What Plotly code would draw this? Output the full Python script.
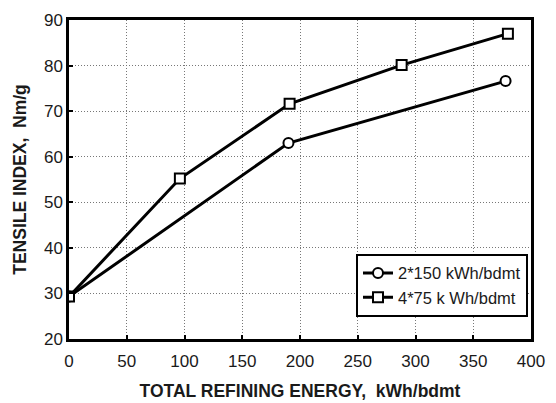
import plotly.graph_objects as go

x_circle = [0, 190, 378]
y_circle = [29.3, 63.0, 76.6]
x_square = [0, 96, 191, 288, 380]
y_square = [29.3, 55.2, 71.6, 80.1, 87.0]
name_circle = "2*150 kWh/bdmt"
name_square = "4*75 k Wh/bdmt"

fig = go.Figure()
fig.add_trace(go.Scatter(x=x_circle, y=y_circle, name=name_circle, mode="lines+markers",
                         line=dict(color="black", width=3),
                         marker=dict(symbol="circle", size=10, color="white",
                                     line=dict(color="black", width=2))))
fig.add_trace(go.Scatter(x=x_square, y=y_square, name=name_square, mode="lines+markers",
                         line=dict(color="black", width=3),
                         marker=dict(symbol="square", size=10, color="white",
                                     line=dict(color="black", width=2))))

font = "Liberation Sans, Arial, sans-serif"
fig.update_layout(
    width=556, height=403,
    margin=dict(l=69, r=25, t=20, b=64),
    paper_bgcolor="white", plot_bgcolor="white",
    font=dict(family=font, size=17, color="#1a1a1a"),
    showlegend=True,
    legend=dict(x=0.9935, y=0.07, xanchor="right", yanchor="bottom",
                bordercolor="black", borderwidth=2, bgcolor="white",
                font=dict(size=16.5, color="#1a1a1a"), tracegroupgap=0,
                itemwidth=30),
    xaxis=dict(range=[0, 400], dtick=50, tick0=0, automargin=False,
               showgrid=True, gridcolor="#777", griddash="1px,2px", gridwidth=1,
               showline=True, linecolor="black", linewidth=2.5, mirror=True,
               ticks="inside", ticklen=4, tickwidth=2, tickcolor="black",
               ticklabelstandoff=5,
               zeroline=False,
               title=dict(text="<b>TOTAL REFINING ENERGY,  kWh/bdmt</b>",
                          font=dict(size=17.5, color="#1a1a1a"), standoff=15)),
    yaxis=dict(range=[20, 90], dtick=10, tick0=20, automargin=False,
               showgrid=True, gridcolor="#777", griddash="1px,2px", gridwidth=1,
               showline=True, linecolor="black", linewidth=2.5, mirror=True,
               ticks="inside", ticklen=4, tickwidth=2, tickcolor="black",
               zeroline=False,
               title=dict(text="<b>TENSILE INDEX,  Nm/g</b>",
                          font=dict(size=17.5, color="#1a1a1a"), standoff=13)),
)
fig.write_html("out.html")
